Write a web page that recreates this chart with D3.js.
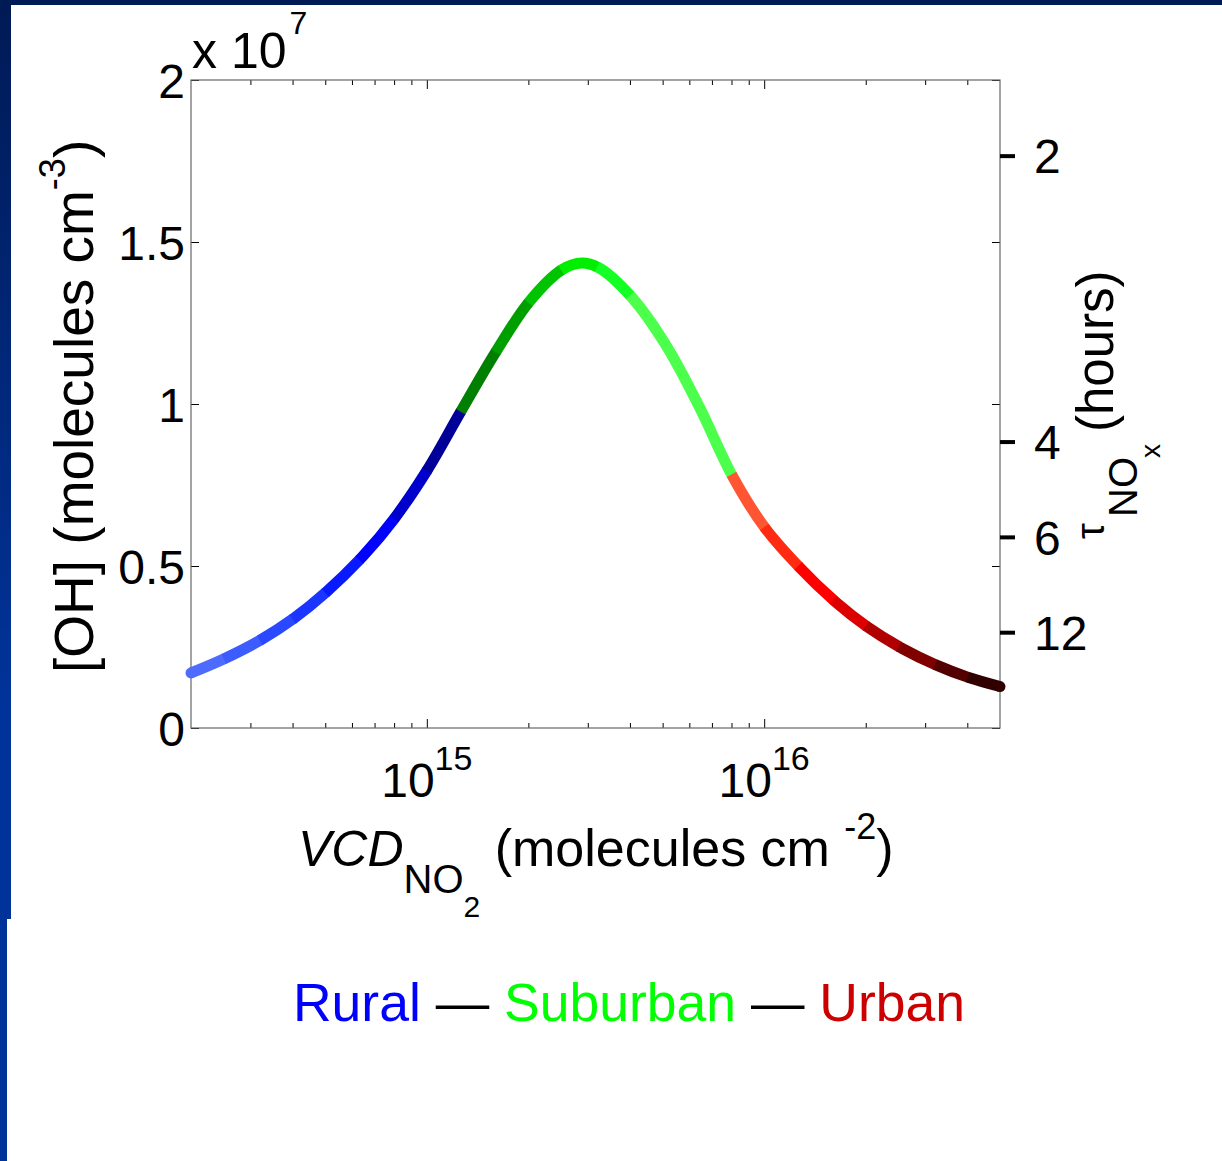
<!DOCTYPE html>
<html>
<head>
<meta charset="utf-8">
<title>OH vs VCD NO2</title>
<style>
  html, body { margin: 0; padding: 0; background: #fff; }
  svg { display: block; }
  text { font-family: "Liberation Sans", Arial, sans-serif; fill: #000; }
</style>
</head>
<body>
<script src="https://d3js.org/d3.v7.min.js"></script>
<script>
// curve: VCD NO2 (molecules cm-2) and [OH] (x 1e7 molecules cm-3)
var vcd = [2.0e14, 2.5e14, 3.22e14, 4.03e14, 5.05e14, 6.5e14, 7.98e14, 1.0e15, 1.26e15, 1.6e15,
           2.01e15, 2.52e15, 2.88e15, 3.24e15, 4.06e15, 5.12e15, 6.41e15, 8.04e15,
           1.0e16, 1.27e16, 1.64e16, 2.01e16, 2.57e16, 3.24e16, 4.06e16, 5.0e16];
var oh = [0.170, 0.213, 0.272, 0.338, 0.421, 0.533, 0.644, 0.794, 0.976, 1.160,
          1.315, 1.415, 1.435, 1.420, 1.328, 1.181, 0.993, 0.779,
          0.621, 0.497, 0.386, 0.314, 0.245, 0.194, 0.155, 0.128];

// colour bands along the curve (edges in VCD, one colour per band)
var bandEdges = [2e14, 2.5e14, 3.2e14, 4e14, 5e14, 6.3e14, 8e14, 1e15, 1.26e15, 1.6e15, 2e15,
                 2.5e15, 3.2e15, 4e15, 8e15, 1e16, 1.26e16, 1.6e16, 2e16, 2.5e16, 3.2e16, 4e16, 5e16];
var bandColors = ["#4d6bff", "#3d5cff", "#2a48ff", "#1a35ff", "#0a1aff", "#0000ff", "#0000cc", "#000099",
                  "#007f00", "#009f00", "#00c400", "#00ee00", "#14ff24", "#4cff4c",
                  "#ff5533", "#ff2a12", "#ff0000", "#dd0000", "#b00000", "#800000", "#520000", "#300000"];

var yTicks = [0, 0.5, 1, 1.5, 2];
var xMajor = [1e15, 1e16];
var xMinor = [3e14, 4e14, 5e14, 6e14, 7e14, 8e14, 9e14, 2e15, 3e15, 4e15, 5e15, 6e15, 7e15, 8e15, 9e15, 2e16, 3e16, 4e16];
var tauTicks = [2, 4, 6, 12];     // hours
var tauK = 3.53;                  // [OH] (x1e7) * tau (h)

var legend = [
  {t: "Rural", c: "#0000ff"}, {t: " \u2014 ", c: "#000"},
  {t: "Suburban", c: "#00ff00"}, {t: " \u2014 ", c: "#000"},
  {t: "Urban", c: "#cc0000"}
];

var W = 1222, H = 1161;
var box = {left: 191, right: 1000, top: 80, bottom: 728};

var svg = d3.select("body").append("svg").attr("width", W).attr("height", H);

// slide background
var defs = svg.append("defs");
var grad = defs.append("linearGradient").attr("id", "bg").attr("x1", 0).attr("y1", 0).attr("x2", 0).attr("y2", 1);
grad.append("stop").attr("offset", "0%").attr("stop-color", "#001a55");
grad.append("stop").attr("offset", "60%").attr("stop-color", "#003399");
grad.append("stop").attr("offset", "100%").attr("stop-color", "#003399");
svg.append("rect").attr("width", W).attr("height", H).attr("fill", "url(#bg)");
svg.append("rect").attr("x", 11).attr("y", 5).attr("width", W - 11).attr("height", H - 5).attr("fill", "#fff");
svg.append("rect").attr("x", 7).attr("y", 919).attr("width", W - 7).attr("height", H - 919).attr("fill", "#fff");

var x = d3.scaleLog().domain([2e14, 5e16]).range([box.left, box.right]);
var y = d3.scaleLinear().domain([0, 2]).range([box.bottom, box.top]);

// axes (ticks inward)
function noDomain(g) { g.select(".domain").remove(); g.selectAll("line").attr("stroke", "#000"); }
svg.append("g").attr("transform", "translate(0," + box.bottom + ")")
  .call(d3.axisBottom(x).tickValues(xMinor).tickSizeInner(-5).tickSizeOuter(0).tickFormat(""))
  .call(noDomain);
svg.append("g").attr("transform", "translate(0," + box.bottom + ")")
  .call(d3.axisBottom(x).tickValues(xMajor).tickSizeInner(-9).tickSizeOuter(0).tickFormat(""))
  .call(noDomain);
svg.append("g").attr("transform", "translate(0," + box.top + ")")
  .call(d3.axisTop(x).tickValues(xMinor).tickSizeInner(-5).tickSizeOuter(0).tickFormat(""))
  .call(noDomain);
svg.append("g").attr("transform", "translate(0," + box.top + ")")
  .call(d3.axisTop(x).tickValues(xMajor).tickSizeInner(-9).tickSizeOuter(0).tickFormat(""))
  .call(noDomain);

var yAx = svg.append("g").attr("transform", "translate(" + box.left + ",0)")
  .call(d3.axisLeft(y).tickValues(yTicks).tickSizeInner(-8).tickSizeOuter(0).tickPadding(6)
    .tickFormat(function(d) { return d; }))
  .call(noDomain);
yAx.selectAll("text").attr("font-size", 48).attr("font-family", null).attr("dy", "0.36em");
svg.append("g").attr("transform", "translate(" + box.right + ",0)")
  .call(d3.axisRight(y).tickValues(yTicks).tickSizeInner(-8).tickSizeOuter(0).tickFormat(""))
  .call(noDomain);

svg.append("rect").attr("x", box.left).attr("y", box.top)
  .attr("width", box.right - box.left).attr("height", box.bottom - box.top)
  .attr("fill", "none").attr("stroke", "#666").attr("stroke-width", 1.2);

// x 10^7 multiplier
var mult = svg.append("text").attr("x", 192).attr("y", 68).attr("font-size", 50);
mult.append("tspan").text("x 10");
mult.append("tspan").attr("font-size", 32).attr("dx", 3).attr("dy", -34).text("7");

// x tick labels 10^n
xMajor.forEach(function(v) {
  var t = svg.append("text").attr("x", x(v)).attr("y", 797).attr("font-size", 48).attr("text-anchor", "middle");
  t.append("tspan").text("10");
  t.append("tspan").attr("font-size", 34).attr("dy", -27).text(Math.round(Math.log10(v)));
});

// right tau axis
var tauG = svg.append("g");
tauG.selectAll("line").data(tauTicks).enter().append("line")
  .attr("x1", box.right).attr("x2", box.right + 15)
  .attr("y1", function(d) { return y(tauK / d); }).attr("y2", function(d) { return y(tauK / d); })
  .attr("stroke", "#000").attr("stroke-width", 4);
tauG.selectAll("text").data(tauTicks).enter().append("text")
  .attr("x", 1034).attr("y", function(d) { return y(tauK / d); }).attr("dy", "0.36em")
  .attr("font-size", 48).text(function(d) { return d; });

// colored curve: one path, each colour band drawn as a dash of it
var line = d3.line().x(function(d) { return x(d[0]); }).y(function(d) { return y(d[1]); })
  .curve(d3.curveCatmullRom.alpha(0.5));
var pts = d3.zip(vcd, oh);
var pathD = line(pts);
var probe = svg.append("path").attr("d", pathD).attr("fill", "none").attr("stroke", "none");
var node = probe.node(), total = node.getTotalLength();
function lenAtX(px) {
  var lo = 0, hi = total;
  for (var k = 0; k < 40; k++) {
    var mid = (lo + hi) / 2;
    if (node.getPointAtLength(mid).x < px) lo = mid; else hi = mid;
  }
  return (lo + hi) / 2;
}
var lens = bandEdges.map(function(e, i) {
  if (i === 0) return 0;
  if (i === bandEdges.length - 1) return total;
  return lenAtX(x(e));
});
probe.remove();
var curveG = svg.append("g");
bandColors.forEach(function(c, i) {
  var a = lens[i], b = lens[i + 1];
  curveG.append("path").attr("d", pathD)
    .attr("fill", "none").attr("stroke", c).attr("stroke-width", 11)
    .attr("stroke-linecap", "butt").attr("stroke-linejoin", "round")
    .attr("stroke-dasharray", "0 " + a + " " + (b - a + 0.8) + " " + (total + 10));
});
// round ends
curveG.append("circle").attr("cx", x(vcd[0])).attr("cy", y(oh[0])).attr("r", 5.5).attr("fill", bandColors[0]);
curveG.append("circle").attr("cx", x(vcd[vcd.length - 1])).attr("cy", y(oh[oh.length - 1])).attr("r", 5.5)
  .attr("fill", bandColors[bandColors.length - 1]);

// y label
var yl = svg.append("text").attr("transform", "translate(93,673) rotate(-90)").attr("font-size", 55);
yl.append("tspan").text("[OH] (molecules cm");
yl.append("tspan").attr("font-size", 36).attr("dy", -28).text("-3");
yl.append("tspan").attr("dy", 28).text(")");

// x label
var xl = svg.append("text").attr("x", 298).attr("y", 866).attr("font-size", 50);
xl.append("tspan").attr("font-style", "italic").text("VCD");
xl.append("tspan").attr("font-size", 40).attr("dy", 27).text("NO");
xl.append("tspan").attr("font-size", 30).attr("dy", 24).text("2");
xl.append("tspan").attr("font-size", 52).attr("dy", -51).text("\u00a0(molecules cm\u00a0");
xl.append("tspan").attr("font-size", 36).attr("dy", -27).text("-2");
xl.append("tspan").attr("font-size", 52).attr("dy", 27).text(")");

// right label tau_NOx (hours)
var rl = svg.append("g").attr("transform", "translate(1118,540) rotate(-90)");
rl.append("text").attr("x", 1).attr("y", -14).attr("font-size", 40).text("\u03c4");
rl.append("text").attr("x", 23).attr("y", 19).attr("font-size", 40).text("NO");
rl.append("text").attr("x", 82).attr("y", 42).attr("font-size", 28).text("x");
rl.append("text").attr("x", 108).attr("y", -5).attr("font-size", 51).text("(hours)");

// legend line
var lg = svg.append("text").attr("x", 629).attr("y", 1021).attr("font-size", 53.5).attr("text-anchor", "middle");
lg.selectAll("tspan").data(legend).enter().append("tspan")
  .attr("fill", function(d) { return d.c; }).text(function(d) { return d.t; });
</script>
</body>
</html>
